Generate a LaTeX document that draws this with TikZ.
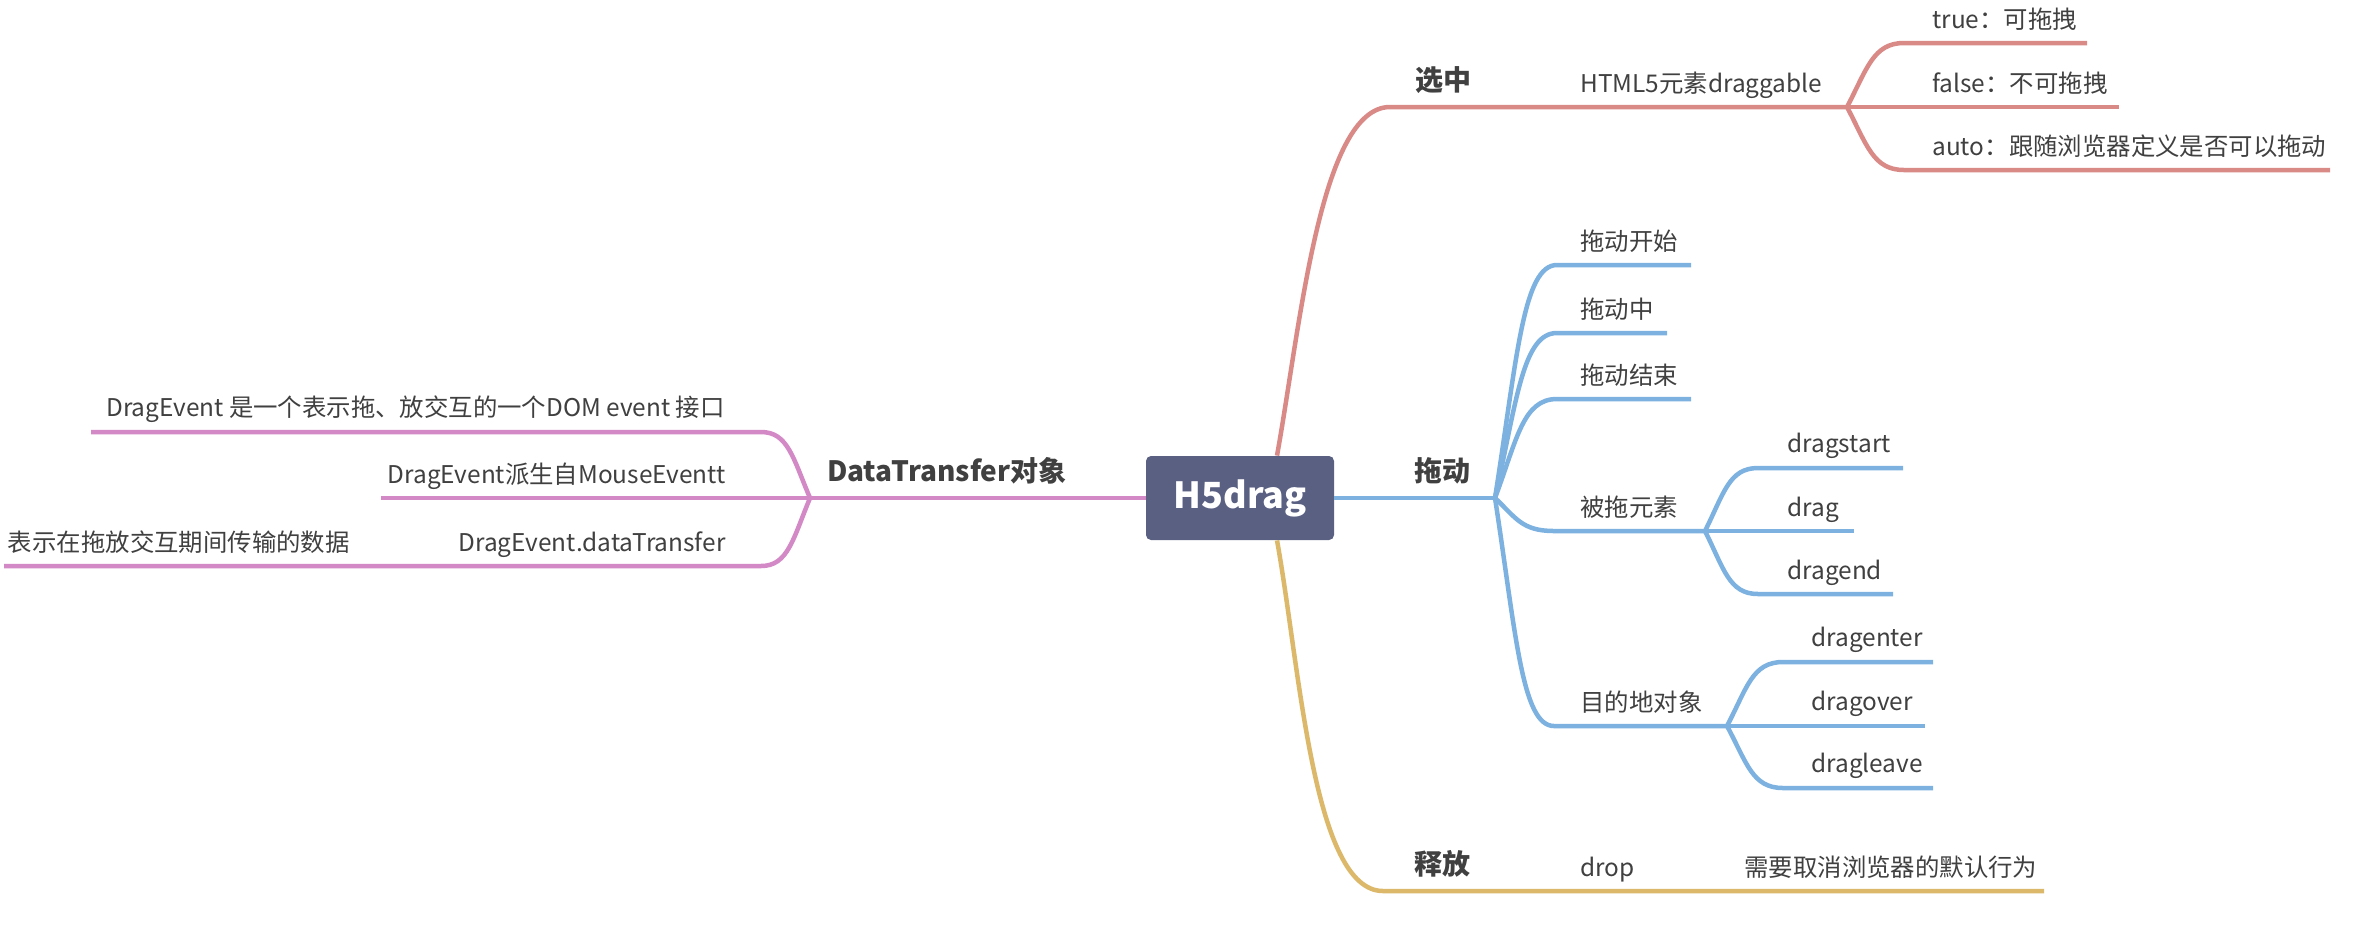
\documentclass[tikz,border=0pt]{standalone}
\usepackage{fontspec}
\newfontfamily\cjk{Noto Sans CJK SC}
\definecolor{rootfill}{RGB}{90,96,130}
\definecolor{txt}{RGB}{64,64,64}
\definecolor{cred}{RGB}{217,138,135}
\definecolor{cblue}{RGB}{124,177,224}
\definecolor{cyel}{RGB}{220,185,106}
\definecolor{cpink}{RGB}{211,137,198}

\begin{document}
\begin{tikzpicture}[
  x=0.5pt, y=-0.5pt,
  root/.style={fill=rootfill, rounded corners=2.5pt, minimum width=94pt, minimum height=42pt,
               inner sep=0pt, text=white, font=\cjk\bfseries\fontsize{18}{20}\selectfont},
  topic/.style={anchor=base west, inner sep=0pt, text=txt, font=\cjk\bfseries\fontsize{14}{16}\selectfont},
  rtopic/.style={topic, anchor=base east},
  leaf/.style={anchor=base west, inner sep=0pt, text=txt, font=\cjk\fontsize{12.2}{14}\selectfont},
  rleaf/.style={leaf, anchor=base east},
  br/.style={line width=2.25pt},
  redbr/.style={br, draw=cred},
  bluebr/.style={br, draw=cblue},
  yelbr/.style={br, draw=cyel},
  pinkbr/.style={br, draw=cpink}
]
\useasboundingbox (0,0) rectangle (2380,928);
\fill[white] (0,0) rectangle (2380,928);
\node[root] (root) at (1240,498) {H5drag};

\coordinate (sel0) at (1390,107);
\coordinate (j1) at (1847,107);
\coordinate (t0) at (1904,43);
\coordinate (t1) at (2087,43);
\coordinate (f1) at (2119,107);
\coordinate (a0) at (1904,170);
\coordinate (a1) at (2330,170);
\draw[redbr] ([xshift=18.5pt]root.north) .. controls +(23,-127) and +(-70,0) .. (sel0) -- (j1);
\draw[redbr] (j1) .. controls +(20,-38) and +(-31,0) .. (t0) -- (t1);
\draw[redbr] (j1) -- (f1);
\draw[redbr] (j1) .. controls +(20,38) and +(-31,0) .. (a0) -- (a1);
\node[topic] (sel) at (1415,90) {选中};
\node[leaf] (html) at (1580,92) {HTML5元素draggable};
\node[leaf] (tru) at (1932,28) {true：可拖拽};
\node[leaf] (fal) at (1932,92) {false：不可拖拽};
\node[leaf] (aut) at (1932,155) {auto：跟随浏览器定义是否可以拖动};

\coordinate (j2) at (1495,498);
\coordinate (b10) at (1557,265);
\coordinate (b11) at (1691,265);
\coordinate (b20) at (1557,333);
\coordinate (b21) at (1667,333);
\coordinate (b30) at (1557,399);
\coordinate (b31) at (1691,399);
\coordinate (b40) at (1554,531);
\coordinate (j4) at (1705,531);
\coordinate (b50) at (1554,726);
\coordinate (j5) at (1727,726);
\draw[bluebr] (root.east) -- (j2);
\draw[bluebr] (j2) .. controls +(22,-140) and +(-34,0) .. (b10) -- (b11);
\draw[bluebr] (j2) .. controls +(22,-99) and +(-34,0) .. (b20) -- (b21);
\draw[bluebr] (j2) .. controls +(22,-59) and +(-34,0) .. (b30) -- (b31);
\draw[bluebr] (j2) .. controls +(21,20) and +(-32,0) .. (b40) -- (j4);
\draw[bluebr] (j2) .. controls +(21,137) and +(-32,0) .. (b50) -- (j5);
\node[topic] (drg) at (1414,481) {拖动};
\node[leaf] (st) at (1580,250) {拖动开始};
\node[leaf] (mid) at (1580,318) {拖动中};
\node[leaf] (en) at (1580,384) {拖动结束};
\node[leaf] (src) at (1580,516) {被拖元素};
\node[leaf] (dst) at (1580,711) {目的地对象};

\coordinate (c10) at (1758,468);
\coordinate (c11) at (1903,468);
\coordinate (c21) at (1854,531);
\coordinate (c30) at (1758,594);
\coordinate (c31) at (1893,594);
\draw[bluebr] (j4) .. controls +(19,-38) and +(-29,0) .. (c10) -- (c11);
\draw[bluebr] (j4) -- (c21);
\draw[bluebr] (j4) .. controls +(19,38) and +(-29,0) .. (c30) -- (c31);
\node[leaf] (dstart) at (1787,452) {dragstart};
\node[leaf] (dg) at (1787,516) {drag};
\node[leaf] (dend) at (1787,579) {dragend};

\coordinate (d10) at (1783,662);
\coordinate (d11) at (1933,662);
\coordinate (d21) at (1925,726);
\coordinate (d30) at (1783,788);
\coordinate (d31) at (1933,788);
\draw[bluebr] (j5) .. controls +(20,-38) and +(-31,0) .. (d10) -- (d11);
\draw[bluebr] (j5) -- (d21);
\draw[bluebr] (j5) .. controls +(20,37) and +(-31,0) .. (d30) -- (d31);
\node[leaf] (denter) at (1811,646) {dragenter};
\node[leaf] (dover) at (1811,710) {dragover};
\node[leaf] (dleave) at (1811,772) {dragleave};

\coordinate (rel0) at (1383,891);
\coordinate (rel1) at (2044,891);
\draw[yelbr] ([xshift=18.5pt]root.south) .. controls +(23,127) and +(-70,0) .. (rel0) -- (rel1);
\node[topic] (rel) at (1414,874) {释放};
\node[leaf] (drop) at (1580,876) {drop};
\node[leaf] (prev) at (1744,876) {需要取消浏览器的默认行为};

\coordinate (j3) at (810,498);
\coordinate (p10) at (761,432);
\coordinate (p11) at (91,432);
\coordinate (p21) at (381,498);
\coordinate (p30) at (761,566);
\coordinate (p31) at (4,566);
\draw[pinkbr] (root.west) -- (j3);
\draw[pinkbr] (j3) .. controls +(-17,-40) and +(27,0) .. (p10) -- (p11);
\draw[pinkbr] (j3) -- (p21);
\draw[pinkbr] (j3) .. controls +(-17,41) and +(27,0) .. (p30) -- (p31);
\node[rtopic] (dt) at (1067,481) {DataTransfer对象};
\node[rleaf] (ev1) at (725,416) {DragEvent 是一个表示拖、放交互的一个DOM event 接口};
\node[rleaf] (ev2) at (726,483) {DragEvent派生自MouseEventt};
\node[rleaf] (ev3) at (726,551) {DragEvent.dataTransfer};
\node[rleaf] (desc) at (350,551) {表示在拖放交互期间传输的数据};
\end{tikzpicture}
\end{document}
